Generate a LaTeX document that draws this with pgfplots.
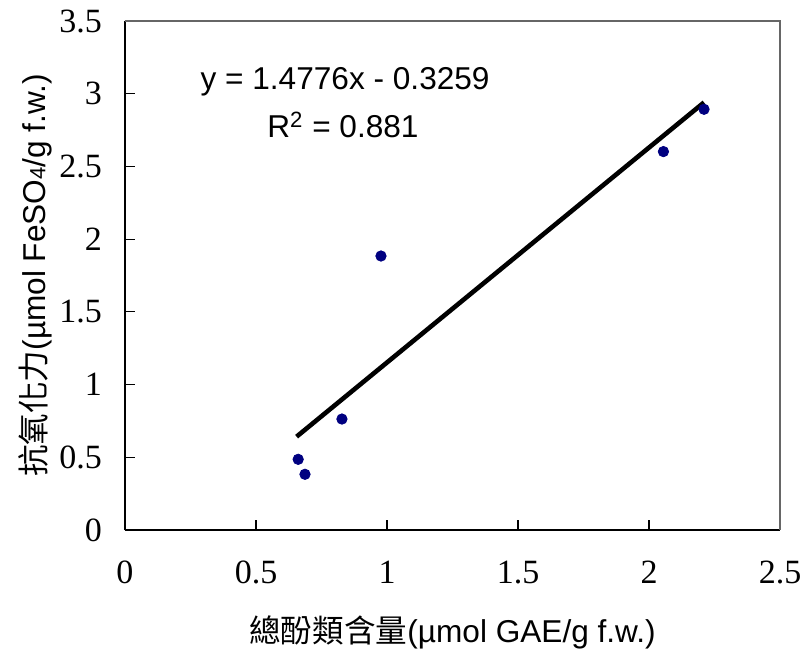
\documentclass[border=0pt]{standalone}
\usepackage{pgfplots}
\pgfplotsset{compat=1.18}
\usepackage{fontspec}
\setmainfont{Liberation Sans}
\newfontfamily\tnr{Liberation Serif}
\newfontfamily\cjk{Noto Sans CJK TC}
\definecolor{ptnavy}{RGB}{0,0,128}
\begin{document}
\begin{tikzpicture}
\begin{axis}[
  scale only axis, width=327.5pt, height=254.5pt,
  xmin=0, xmax=2.5, ymin=0, ymax=3.5,
  xtick={0,0.5,...,2.5}, ytick={0,0.5,...,3.5},
  axis x line*=bottom, axis y line*=left,
  axis line style={black, line width=0.8pt},
  tick align=inside, major tick length=5pt,
  tick style={black, line width=0.6pt},
  /pgf/number format/assume math mode=true,
  ticklabel style={font=\tnr\fontsize{17}{20}\selectfont},
  xticklabel style={yshift=-12pt},
  yticklabel style={xshift=-8pt},
  xlabel={{\cjk 總酚類含量}(µmol GAE/g f.w.)},
  ylabel={{\cjk 抗氧化力}(µmol FeSO{\fontsize{11}{11}\selectfont 4}/g f.w.)},
  label style={font=\fontsize{15.8}{18}\selectfont},
  xlabel style={at={(axis description cs:0.5,-0.2004)}, anchor=center},
  ylabel style={at={(axis description cs:-0.137,0.5)}, anchor=center},
  clip=false,
]
\draw[gray!80!black, line width=0.8pt] (rel axis cs:0,1) -- (rel axis cs:1,1) -- (rel axis cs:1,0);
\addplot[only marks, mark=*, mark size=2.6pt, ptnavy, mark options={fill=ptnavy, draw=ptnavy}] coordinates {
  (0.661,0.486) (0.687,0.383) (0.828,0.763) (0.977,1.884) (2.055,2.602) (2.210,2.893)
};
\addplot[black, line width=2.3pt] coordinates {(0.655,0.642) (2.210,2.940)};
\node[font=\fontsize{15.8}{18}\selectfont] at (axis cs:0.84,3.08) {y = 1.4776x - 0.3259};
\node[font=\fontsize{15.8}{18}\selectfont] at (axis cs:0.832,2.785) {R\textsuperscript{2} = 0.881};
\end{axis}
\pgfresetboundingbox
\useasboundingbox (-62.5pt,-62pt) rectangle (339pt,265pt);
\end{tikzpicture}
\end{document}
